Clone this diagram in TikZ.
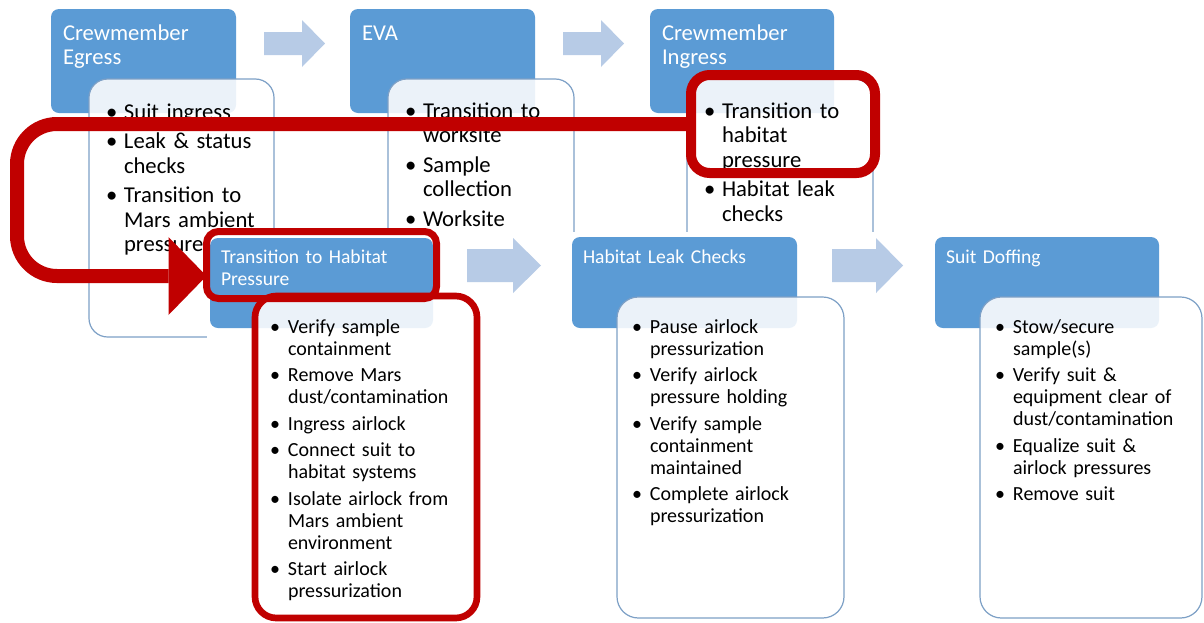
\documentclass[tikz,border=0pt]{standalone}
\usepackage{fontspec}
\setmainfont{Carlito}
\usetikzlibrary{arrows.meta}
\definecolor{stepblue}{RGB}{91,155,213}
\definecolor{flowarrow}{RGB}{183,203,230}
\definecolor{cardline}{RGB}{125,160,198}
\definecolor{markred}{RGB}{192,0,0}
\newlength\bulind
% one bulleted item with hanging indent
\newcommand\bl[1]{\noindent\hangindent=\bulind\hangafter=1\makebox[\bulind][l]{\textbullet}#1\par}
\newcommand\topfmt{\setlength\parskip{3.5pt}\setlength\bulind{13.5pt}}
\newcommand\lowfmt{\setlength\parskip{3.4pt}\setlength\bulind{13.5pt}}

\begin{document}
\begin{tikzpicture}[x=0.75pt,y=-0.75pt,
  sz/.style 2 args={minimum width=#1*0.75pt,minimum height=#2*0.75pt},
  panel/.style={anchor=north west,inner sep=0pt,outer sep=0pt},
  head/.style={panel,fill=stepblue,rounded corners=6pt},
  card/.style={panel,fill=white,fill opacity=0.88,draw=cardline,draw opacity=1,line width=0.9pt,rounded corners=14pt},
  lowcard/.style={card,rounded corners=16pt},
  txt/.style={anchor=base west,inner sep=0pt,outer sep=0pt,text width=175pt,align=left},
  tophead/.style={txt,text=white,font=\fontsize{17}{18}\selectfont},
  topbody/.style={txt,text=black,font=\fontsize{17}{18.5}\selectfont},
  lowhead/.style={txt,text=white,font=\fontsize{14.7}{16.5}\selectfont},
  lowbody/.style={txt,text=black,font=\fontsize{15}{16.5}\selectfont},
  flow/.style={fill=flowarrow},
  hilite/.style={panel,draw=markred,rounded corners=9pt}
]
\useasboundingbox (0,0) rectangle (1204,622);

% ---------- upper process ----------
\node[head,sz={185}{104}] (b1) at (51,9) {};
\node[head,sz={185}{104}] (b2) at (350,9) {};
\node[head,sz={184}{104}] (b3) at (650,9) {};
\node[card,sz={185}{258}] (w1) at (89,79) {};
\node[card,sz={186}{258}] (w2) at (388,79) {};
\node[card,sz={186}{258}] (w3) at (687,79) {};
\fill[flow] (264,32) -- (302,32) -- (302,20) -- (325,43.5) -- (302,67) -- (302,55) -- (264,55) -- cycle;
\fill[flow] (563,32) -- (601,32) -- (601,20) -- (624,43.5) -- (601,67) -- (601,55) -- (563,55) -- cycle;

\node[tophead] (h1) at (63,40) {Crewmember\\Egress};
\node[tophead] (h2) at (362,40) {EVA};
\node[tophead] (h3) at (662,40) {Crewmember\\Ingress};

\node[topbody] (t1) at (106,119) {\topfmt\bl{Suit ingress}\bl{Leak \& status\newline checks}\bl{Transition to\newline Mars ambient\newline pressure}};
\node[topbody] (t2) at (405,118) {\topfmt\bl{Transition to\newline worksite}\bl{Sample\newline collection}\bl{Worksite}};
\node[topbody] (t3) at (704,118) {\topfmt\bl{Transition to\newline habitat\newline pressure}\bl{Habitat leak\newline checks}};

% ---------- lower process (laid over the upper one) ----------
\fill[white] (207,232) rectangle (1204,622);

\node[head,sz={223}{90}] (b4) at (210,238) {};
\node[head,sz={225}{91}] (b5) at (572,237) {};
\node[head,sz={224}{91}] (b6) at (935,237) {};
\node[lowcard,draw=markred,line width=5pt,sz={222}{322}] (w4) at (255,296) {};
\node[lowcard,sz={227}{321}] (w5) at (617,297) {};
\node[lowcard,sz={222}{321}] (w6) at (980,297) {};
\fill[flow] (467,249) -- (513,249) -- (513,238) -- (541,265.5) -- (513,293) -- (513,282) -- (467,282) -- cycle;
\fill[flow] (832,249) -- (876,249) -- (876,238) -- (903,265.5) -- (876,293) -- (876,282) -- (832,282) -- cycle;

\node[lowhead] (h4) at (221,263) {Transition to Habitat\\Pressure};
\node[lowhead] (h5) at (583,263) {Habitat Leak Checks};
\node[lowhead] (h6) at (946,263) {Suit Doffing};

\node[lowbody] (t4) at (270,333) {\lowfmt\bl{Verify sample\newline containment}\bl{Remove Mars\newline dust/contamination}\bl{Ingress airlock}\bl{Connect suit to\newline habitat systems}\bl{Isolate airlock from\newline Mars ambient\newline environment}\bl{Start airlock\newline pressurization}};
\node[lowbody] (t5) at (632,333) {\lowfmt\bl{Pause airlock\newline pressurization}\bl{Verify airlock\newline pressure holding}\bl{Verify sample\newline containment\newline maintained}\bl{Complete airlock\newline pressurization}};
\node[lowbody] (t6) at (995,333) {\lowfmt\bl{Stow/secure\newline sample(s)}\bl{Verify suit \&\newline equipment clear of\newline dust/contamination}\bl{Equalize suit \&\newline airlock pressures}\bl{Remove suit}};

% ---------- highlights ----------
\node[hilite,line width=5.25pt,sz={230}{67}] (transHL) at (206.5,231.5) {};
\node[hilite,line width=7.5pt,rounded corners=14pt,sz={184}{98}] (ingHL) at (691,75) {};
\draw[markred,line width=10.5pt,rounded corners=30pt,
      -{Triangle[length=28.5pt,width=58.5pt,line width=0pt]}]
  (ingHL.west) -- (17,124) -- (17,276) -- (transHL.west |- 0,276);
\end{tikzpicture}
\end{document}
